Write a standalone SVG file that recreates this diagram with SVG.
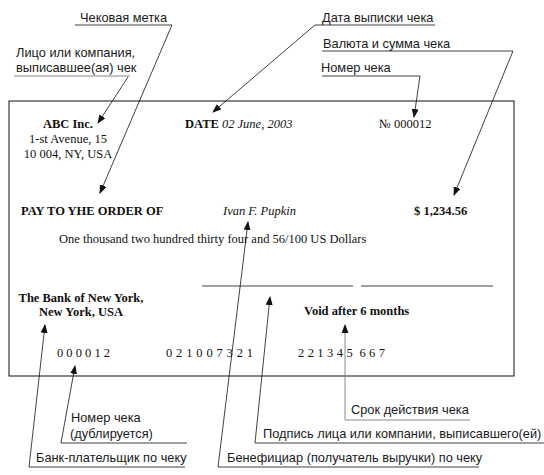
<svg xmlns="http://www.w3.org/2000/svg" width="544" height="475" viewBox="0 0 544 475">
<style>
.lbl{font-family:"Liberation Sans",Arial,sans-serif;font-size:12.8px;fill:#1a1a1a}
.ck{font-family:"Liberation Serif","Times New Roman",serif;font-size:12.5px;fill:#111}
.b{font-weight:bold}
.i{font-style:italic}
.ln{stroke:#111;stroke-width:0.8;fill:none}
.gr{stroke:#888;stroke-width:1;fill:none}
.ar{stroke:#111;stroke-width:0.8;fill:none;marker-end:url(#ah)}
.arg{stroke:#888;stroke-width:1;fill:none;marker-end:url(#ah)}
</style>
<defs>
<marker id="ah" markerUnits="userSpaceOnUse" markerWidth="9" markerHeight="7" refX="8" refY="3.5" orient="auto">
<path d="M0,0 L9,3.5 L0,7 z" fill="#111"/>
</marker>
</defs>
<rect width="544" height="475" fill="#fff"/>

<g id="check">
<rect x="9" y="101" width="505" height="275" fill="none" stroke="#111" stroke-width="1"/>
<line class="ln" x1="202" y1="286" x2="353" y2="286"/>
<line class="ln" x1="361" y1="286" x2="493" y2="286"/>
</g>

<g id="issuer">
<text class="ck b" x="68" y="128" text-anchor="middle">ABC Inc.</text>
<text class="ck" x="68" y="143" text-anchor="middle">1-st Avenue, 15</text>
<text class="ck" x="68" y="158" text-anchor="middle">10 004, NY, USA</text>
</g>
<g id="date"><text class="ck" x="185" y="128"><tspan class="b">DATE</tspan> <tspan class="i">02 June, 2003</tspan></text></g>
<g id="number"><text class="ck" x="379" y="128">№ 000012</text></g>
<g id="payto"><text class="ck b" x="21" y="215">PAY TO YHE ORDER OF</text></g>
<g id="payee"><text class="ck i" x="223" y="215">Ivan F. Pupkin</text></g>
<g id="amount"><text class="ck b" x="414" y="215">$ 1,234.56</text></g>
<g id="words"><text class="ck" x="59" y="243">One thousand two hundred thirty four and 56/100 US Dollars</text></g>
<g id="bank">
<text class="ck b" x="81" y="302" text-anchor="middle">The Bank of New York,</text>
<text class="ck b" x="81" y="316" text-anchor="middle">New York, USA</text>
</g>
<g id="void"><text class="ck b" x="304" y="315">Void after 6 months</text></g>
<g id="codes">
<text class="ck" x="57" y="357" textLength="53" xml:space="preserve">0 0 0 0 1 2</text>
<text class="ck" x="166" y="357" textLength="87" xml:space="preserve">0 2 1 0 0 7 3 2 1</text>
<text class="ck" x="298" y="357" textLength="87" xml:space="preserve">2 2 1 3 4 5  6 6 7</text>
</g>

<g id="label-mark"><text class="lbl" x="80" y="22">Чековая метка</text></g>
<g id="label-issuer"><text class="lbl" x="16" y="57">Лицо или компания,</text><text class="lbl" x="16" y="72">выписавшее(ая) чек</text></g>
<g id="label-date"><text class="lbl" x="322" y="22">Дата выписки чека</text></g>
<g id="label-amount"><text class="lbl" x="323" y="48">Валюта и сумма чека</text></g>
<g id="label-number"><text class="lbl" x="321" y="72">Номер чека</text></g>
<g id="label-dup"><text class="lbl" x="71" y="422">Номер чека</text><text class="lbl" x="70" y="438">(дублируется)</text></g>
<g id="label-bank"><text class="lbl" x="36" y="462">Банк-плательщик по чеку</text></g>
<g id="label-payee"><text class="lbl" x="227" y="462">Бенефициар (получатель выручки) по чеку</text></g>
<g id="label-sign"><text class="lbl" x="263" y="438">Подпись лица или компании, выписавшего(ей)</text></g>
<g id="label-void"><text class="lbl" x="351" y="414">Срок действия чека</text></g>

<g id="connectors">
<polyline class="ar" points="75,25 172,25 100,193"/>
<line class="gr" x1="14" y1="76" x2="130" y2="76"/>
<line class="ar" x1="128" y1="77" x2="98" y2="123"/>
<polyline class="ar" points="435,25 315,25 213,112"/>
<polyline class="ar" points="322,51 513,51 454,195"/>
<polyline class="ar" points="322,76 420,76 414,117"/>
<polyline class="ar" points="187,443 61,443 75,366"/>
<polyline class="ar" points="185,467 29,467 45,325"/>
<polyline class="ar" points="479,467 218,467 248,222"/>
<polyline class="ar" points="544,443 255,443 270,297"/>
<polyline class="arg" points="470,420 345,420 345,325"/>
</g>
</svg>
